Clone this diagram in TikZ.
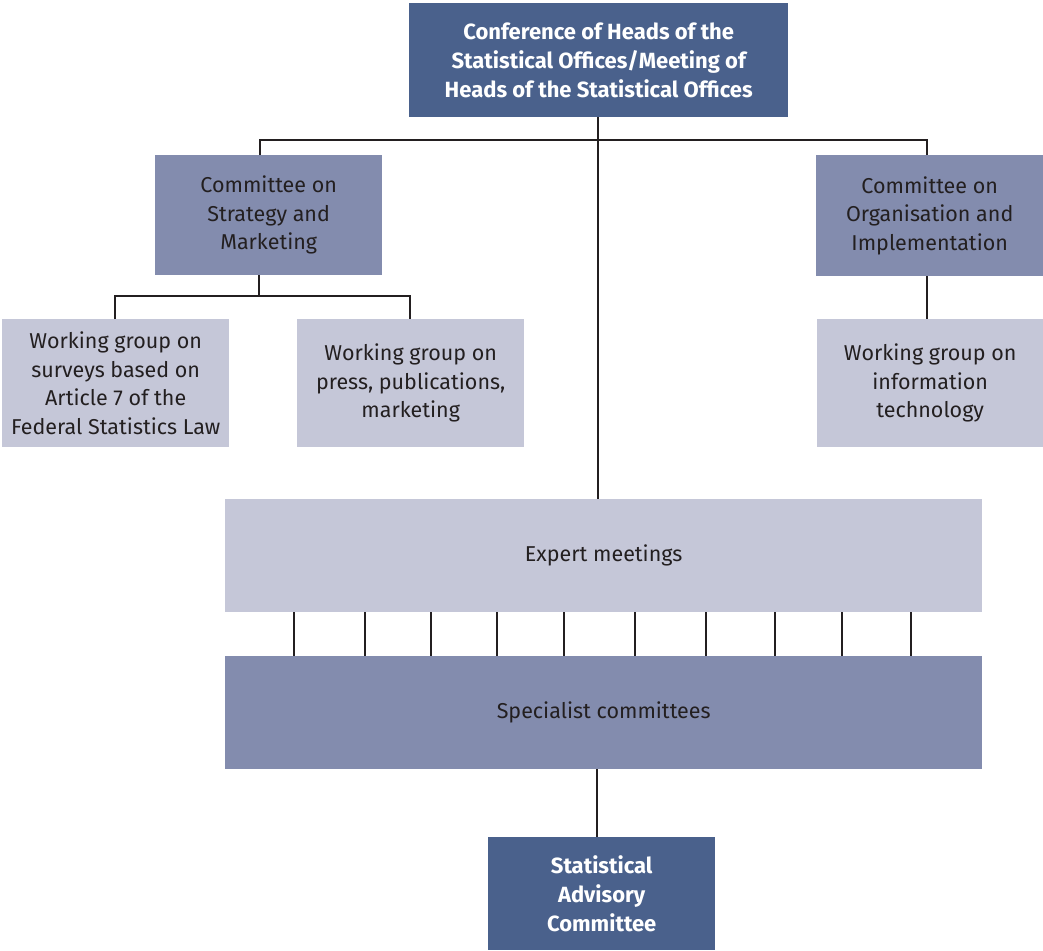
\documentclass[tikz,border=0pt]{standalone}
\usepackage{fontspec}
\setmainfont{Fira Sans}
\usetikzlibrary{calc}
\definecolor{darkbox}{HTML}{4A618C}
\definecolor{midbox}{HTML}{838CAE}
\definecolor{lightbox}{HTML}{C5C7D8}
\definecolor{txt}{HTML}{231F20}
\tikzset{
  x=1pt,y=-1pt,
  box/.style={anchor=north west,inner sep=0pt,align=center,text=txt,
    font=\fontsize{21.5}{28.5}\selectfont},
  darkb/.style={box,fill=darkbox,text=white,font=\fontsize{22}{29}\selectfont\bfseries},
  midb/.style={box,fill=midbox},
  lightb/.style={box,fill=lightbox},
  conn/.style={draw=txt,line width=2.7pt}
}
\begin{document}
\begin{tikzpicture}
\useasboundingbox (0,0) rectangle (1043,950);
\node[darkb,minimum width=379,minimum height=114] (top) at (409,3)
  {Conference of Heads of the\\Statistical Offices/Meeting of\\Heads of the Statistical Offices};
\node[midb,minimum width=227,minimum height=120] (strat) at (155,155)
  {Committee on\\Strategy and\\Marketing};
\node[midb,minimum width=227,minimum height=121] (org) at (816,155)
  {Committee on\\Organisation and\\Implementation};
\node[lightb,minimum width=227,minimum height=128] (wgs) at (2,319)
  {Working group on\\surveys based on\\Article 7 of the\\Federal Statistics Law};
\node[lightb,minimum width=227,minimum height=128] (wgp) at (297,319)
  {Working group on\\press, publications,\\marketing};
\node[lightb,minimum width=226,minimum height=128] (wgi) at (817,319)
  {Working group on\\information\\technology};
\node[lightb,minimum width=757,minimum height=113] (expert) at (225,499)
  {Expert meetings};
\node[midb,minimum width=757,minimum height=113] (spec) at (225,656)
  {Specialist committees};
\node[darkb,minimum width=227,minimum height=113] (sac) at (488,837)
  {Statistical\\Advisory\\Committee};
% top connectors
\coordinate (hy) at (598,140);
\draw[conn] (top.south -| hy) -- (expert.north -| hy);
\draw[conn] (strat.north -| 260,0) -- (260,140) -- (927,140) -- (org.north -| 927,0);
% strategy children
\draw[conn] (strat.south -| 259,0) -- (259,296);
\draw[conn] (wgs.north -| 115,0) -- (115,296) -- (410,296) -- (wgp.north -| 410,0);
% org child
\draw[conn] (org.south -| 927,0) -- (wgi.north -| 927,0);
% ticks
\foreach \x in {294,365,431,497,564,635,706,775,842,911}
  \draw[conn] (expert.south -| \x,0) -- (spec.north -| \x,0);
% specialist to advisory
\draw[conn] (spec.south -| 597,0) -- (sac.north -| 597,0);
\end{tikzpicture}
\end{document}
